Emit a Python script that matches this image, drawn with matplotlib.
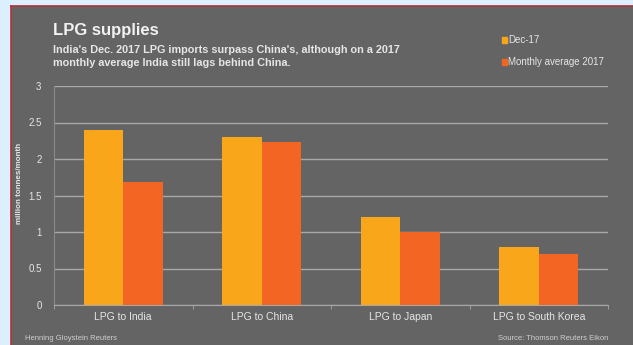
import numpy as np
import matplotlib.pyplot as plt
from matplotlib.patches import Rectangle
from matplotlib.lines import Line2D

plt.rcParams['font.family'] = ['Liberation Sans', 'DejaVu Sans']

# Datos
categorias = ['LPG to India', 'LPG to China', 'LPG to Japan', 'LPG to South Korea']
dic_17 = [2.4, 2.3, 1.2, 0.8]
promedio_2017 = [1.68, 2.23, 1.0, 0.7]
etiquetas_y = ['0', '0.5', '1', '1.5', '2', '2.5', '3']

fondo = '#646464'
naranja = '#f9a61a'
rojo = '#f26522'
texto = '#e6e6e6'

fig = plt.figure(figsize=(6.33, 3.45), dpi=100)
fig.patch.set_facecolor('#dcefff')

# Panel gris con borde rojo
W, H = 633, 345
fig.patches.append(Rectangle((11 / W, 0), 1, 1 - 6 / H, transform=fig.transFigure,
                             facecolor=fondo, edgecolor='none', zorder=0))
fig.lines.append(Line2D([11 / W, 11 / W], [0, 1 - 6 / H], transform=fig.transFigure,
                        color='#b0303c', lw=1.2))
fig.lines.append(Line2D([11 / W, 1], [1 - 6 / H, 1 - 6 / H], transform=fig.transFigure,
                        color='#b0303c', lw=1.2))

ax = fig.add_axes([54 / W, 1 - 305 / H, (608 - 54) / W, (305 - 86) / H], zorder=2)
ax.set_facecolor(fondo)

x = np.arange(len(categorias))
ancho = 0.285
ax.bar(x - ancho / 2, dic_17, ancho, color=naranja, zorder=3)
ax.bar(x + ancho / 2, promedio_2017, ancho, color=rojo, zorder=3)

ax.set_xlim(-0.5, len(categorias) - 0.5)
ax.set_ylim(0, 3)
ax.set_yticks(np.arange(0, 3.01, 0.5))
ax.set_yticklabels(etiquetas_y)
ax.yaxis.grid(True, color='#a8a8a8', lw=1)
ax.set_axisbelow(True)

for s in ['top', 'right']:
    ax.spines[s].set_visible(False)
ax.spines['left'].set_color('#8a8a8a')
ax.spines['bottom'].set_color('#a8a8a8')

ax.set_xticks(x)
ax.set_xticklabels(categorias, fontsize=7.5, color=texto)
ax.set_xticks(np.arange(-0.5, len(categorias)), minor=True)
ax.tick_params(axis='x', which='major', length=0, pad=5)
ax.tick_params(axis='x', which='minor', length=3, color='#a8a8a8')
ax.tick_params(axis='y', length=0, labelsize=7, labelcolor=texto, pad=9)

# Etiqueta del eje y
fig.text(20 / W, 1 - 183 / H, 'million tonnes/month', fontsize=5.8, color=texto,
         fontweight='bold', rotation=90, va='center', ha='center')

# Titulos
fig.text(53 / W, 1 - 31 / H, 'LPG supplies', fontsize=12, fontweight='bold', color='#f2f2f2',
         va='center', ha='left')
fig.text(53 / W, 1 - 50 / H, "India's Dec. 2017 LPG imports surpass China's, although on a 2017",
         fontsize=7.8, fontweight='bold', color=texto, va='center', ha='left')
fig.text(53 / W, 1 - 63 / H, 'monthly average India still lags behind China.',
         fontsize=7.8, fontweight='bold', color=texto, va='center', ha='left')

# Leyenda
for yy, c, lab in [(40, naranja, 'Dec-17'), (62, rojo, 'Monthly average 2017')]:
    fig.patches.append(Rectangle((502 / W, 1 - (yy + 3) / H), 5 / W, 6 / H,
                                 transform=fig.transFigure, color=c, zorder=3))
    fig.text(508 / W, 1 - yy / H, lab, fontsize=7, color=texto, va='center', ha='left')

# Pie
fig.text(25 / W, 1 - 338 / H, 'Henning Gloystein Reuters', fontsize=5.5, color='#cfcfcf',
         va='center', ha='left')
fig.text(608 / W, 1 - 338 / H, 'Source: Thomson Reuters Eikon', fontsize=5.5, color='#cfcfcf',
         va='center', ha='right')

fig.savefig('out.png', dpi=100, facecolor=fig.get_facecolor())
